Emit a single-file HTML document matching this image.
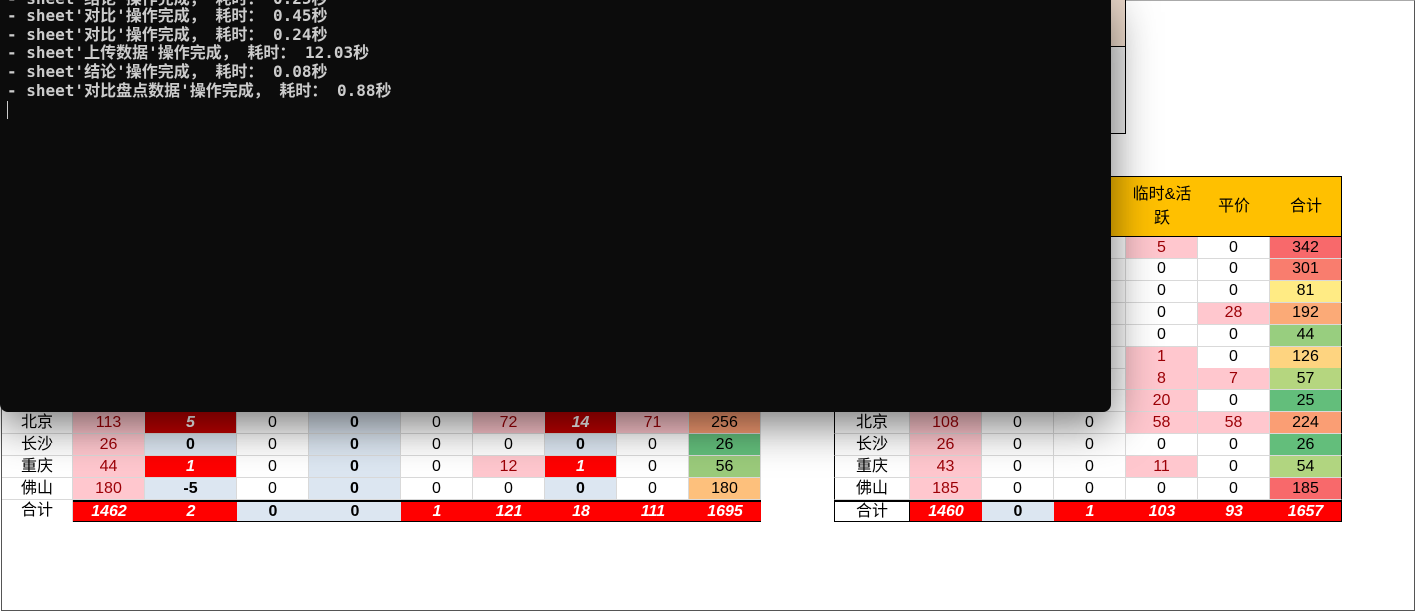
<!DOCTYPE html>
<html><head><meta charset="utf-8">
<style>
body{margin:0;width:1415px;height:611px;overflow:hidden;background:#fff;font-family:"Liberation Sans","Noto Sans CJK SC",sans-serif;position:relative}
#frame{position:absolute;left:1px;top:0;width:1412px;height:609px;border:1px solid #555;border-top-color:#aaa}
.c{position:absolute;box-sizing:border-box;border-right:1px solid #d9d9d9;border-bottom:1px solid #d9d9d9;display:flex;align-items:center;justify-content:center;font-size:16px;color:#000;line-height:20px}
#term{position:absolute;left:0;top:0;width:1111px;height:412px;background:#0c0c0c;border-radius:0 0 8px 8px;box-shadow:0 12px 45px rgba(0,0,0,0.55);z-index:5;font-family:"DejaVu Sans Mono","Liberation Mono","Noto Sans CJK SC",monospace;font-size:16px;color:#cccccc;font-weight:bold;line-height:20px}
#term div{position:absolute;left:7px;white-space:pre}
</style></head><body>
<div id="frame"></div>
<div style="position:absolute;left:1000px;top:0;width:126px;height:134px;border:1px solid #000;border-top:none;box-sizing:border-box;background:#eee">
 <div style="height:46px;background:linear-gradient(#e8d6c8,#f3e0d0);border-bottom:1px solid #000"></div>
</div>
<div id="sheet"></div>
<div id="term">
 <div style="top:-11px">- sheet'结论'操作完成， 耗时： 0.25秒</div>
 <div style="top:6px">- sheet'对比'操作完成， 耗时： 0.45秒</div>
 <div style="top:25px">- sheet'对比'操作完成， 耗时： 0.24秒</div>
 <div style="top:43px">- sheet'上传数据'操作完成， 耗时： 12.03秒</div>
 <div style="top:62px">- sheet'结论'操作完成， 耗时： 0.08秒</div>
 <div style="top:81px">- sheet'对比盘点数据'操作完成， 耗时： 0.88秒</div>
 <div style="top:101px;left:7px;width:1px;height:18px;background:#ccc"></div>
</div>
<script>
const S=document.getElementById('sheet');
const PK='#FFC7CE',PT='#9C0006',BL='#DCE6F1',DR='#C00000',RD='#FF0000';
function cell(x,y,w,h,txt,st){
 const d=document.createElement('div');d.className='c';
 d.style.left=x+'px';d.style.top=y+'px';d.style.width=w+'px';d.style.height=h+'px';
 d.textContent=txt;Object.assign(d.style,st||{});
 
 
 S.appendChild(d);return d;}
const cities=['北京','长沙','重庆','佛山'];
const LX=[2,73,145,237,309,401,473,545,617,689,761];
const L=[[113,5,0,0,0,72,14,71,256],[26,0,0,0,0,0,0,0,26],[44,1,0,0,0,12,1,0,56],[180,-5,0,0,0,0,0,0,180]];
const Ltot=[1462,2,0,0,1,121,18,111,1695];
const LsumC=['#FA9E74','#63BE7B','#9BCB7B','#FDC07C'];
function lstyle(ci,v,r){
 if(ci==0)return{background:PK,color:PT};
 if(ci==1||ci==6){if(v>1)return{background:DR,color:'#fff',fontWeight:'bold',fontStyle:'italic'};if(v==1)return{background:RD,color:'#fff',fontWeight:'bold',fontStyle:'italic'};return{background:BL,fontWeight:'bold'};}
 if(ci==3)return{background:BL,fontWeight:'bold'};
 if(ci==5||ci==7)return v>0?{background:PK,color:PT}:{};
 if(ci==8)return{background:LsumC[r]};
 return{};}
for(let r=0;r<4;r++){const y=412+22*r;
 cell(LX[0],y,LX[1]-LX[0],22,cities[r],{});
 for(let c=0;c<9;c++)cell(LX[c+1],y,LX[c+2]-LX[c+1],22,L[r][c],lstyle(c,L[r][c],r));}
cell(LX[0],500,71,22,'合计',{borderBottom:'none'});
for(let c=0;c<9;c++){const v=Ltot[c];const blue=(c==2||c==3);
 cell(LX[c+1],500,LX[c+2]-LX[c+1],22,v,Object.assign({borderTop:'2px solid #000',borderBottom:'1px solid #000',borderRight:'none',fontWeight:'bold',fontStyle:blue?'normal':'italic'},blue?{background:BL}:{background:RD,color:'#fff'}));}
const RX=[834,910,982,1054,1126,1198,1270,1342];
cell(834,176,508,61,'',{background:'#FFC000',border:'1px solid #000'});
const hd=['','','','只','临时&活跃','平价','合计'];
for(let c=3;c<7;c++)cell(RX[c],177,72,59,hd[c],{border:'none',fontSize:'16px',textAlign:'center',padding:'0 3px',lineHeight:'24px'});
const Rtop=[[5,0,342],[0,0,301],[0,0,81],[0,28,192],[0,0,44],[1,0,126],[8,7,57],[20,0,25]];
const RtopC=['#F8696B','#F97D6E','#FFEB84','#FBAA77','#98CE7F','#FED480','#B5D67F','#63BE7B'];
for(let r=0;r<8;r++){const y=237+(r==0?0:21.9*r);
 cell(RX[3],y,72,22,'',{});
 cell(RX[4],y,72,22,Rtop[r][0],Rtop[r][0]>0||r==0?{background:PK,color:PT}:{});
 cell(RX[5],y,72,22,Rtop[r][1],Rtop[r][1]>0?{background:PK,color:PT}:{});
 cell(RX[6],y,72,22,Rtop[r][2],{background:RtopC[r],borderRight:'1px solid #000'});}
const R=[[108,0,0,58,58,224],[26,0,0,0,0,26],[43,0,0,11,0,54],[185,0,0,0,0,185]];
const RC=['#FA9E74','#63BE7B','#B1D580','#F8696B'];
for(let r=0;r<4;r++){const y=412+22*r;
 cell(834,y,76,22,cities[r],{borderLeft:'1px solid #000'});
 for(let c=0;c<6;c++){let st={};if(c==0||((c==3||c==4)&&R[r][c]>0))st={background:PK,color:PT};if(c==5)st={background:RC[r],borderRight:'1px solid #000'};
  cell(RX[c+1],y,72,22,R[r][c],st);}}
const Rtot=[1460,0,1,103,93,1657];
cell(834,500,76,22,'合计',{border:'1px solid #000',borderTop:'2px solid #000'});
for(let c=0;c<6;c++){const blue=Rtot[c]==0;
 cell(RX[c+1],500,72,22,Rtot[c],Object.assign({borderTop:'2px solid #000',borderBottom:'1px solid #000',borderRight:c==5?'1px solid #000':'none',fontWeight:'bold',fontStyle:blue?'normal':'italic'},blue?{background:BL}:{background:RD,color:'#fff'}));}
</script>
</body></html>
